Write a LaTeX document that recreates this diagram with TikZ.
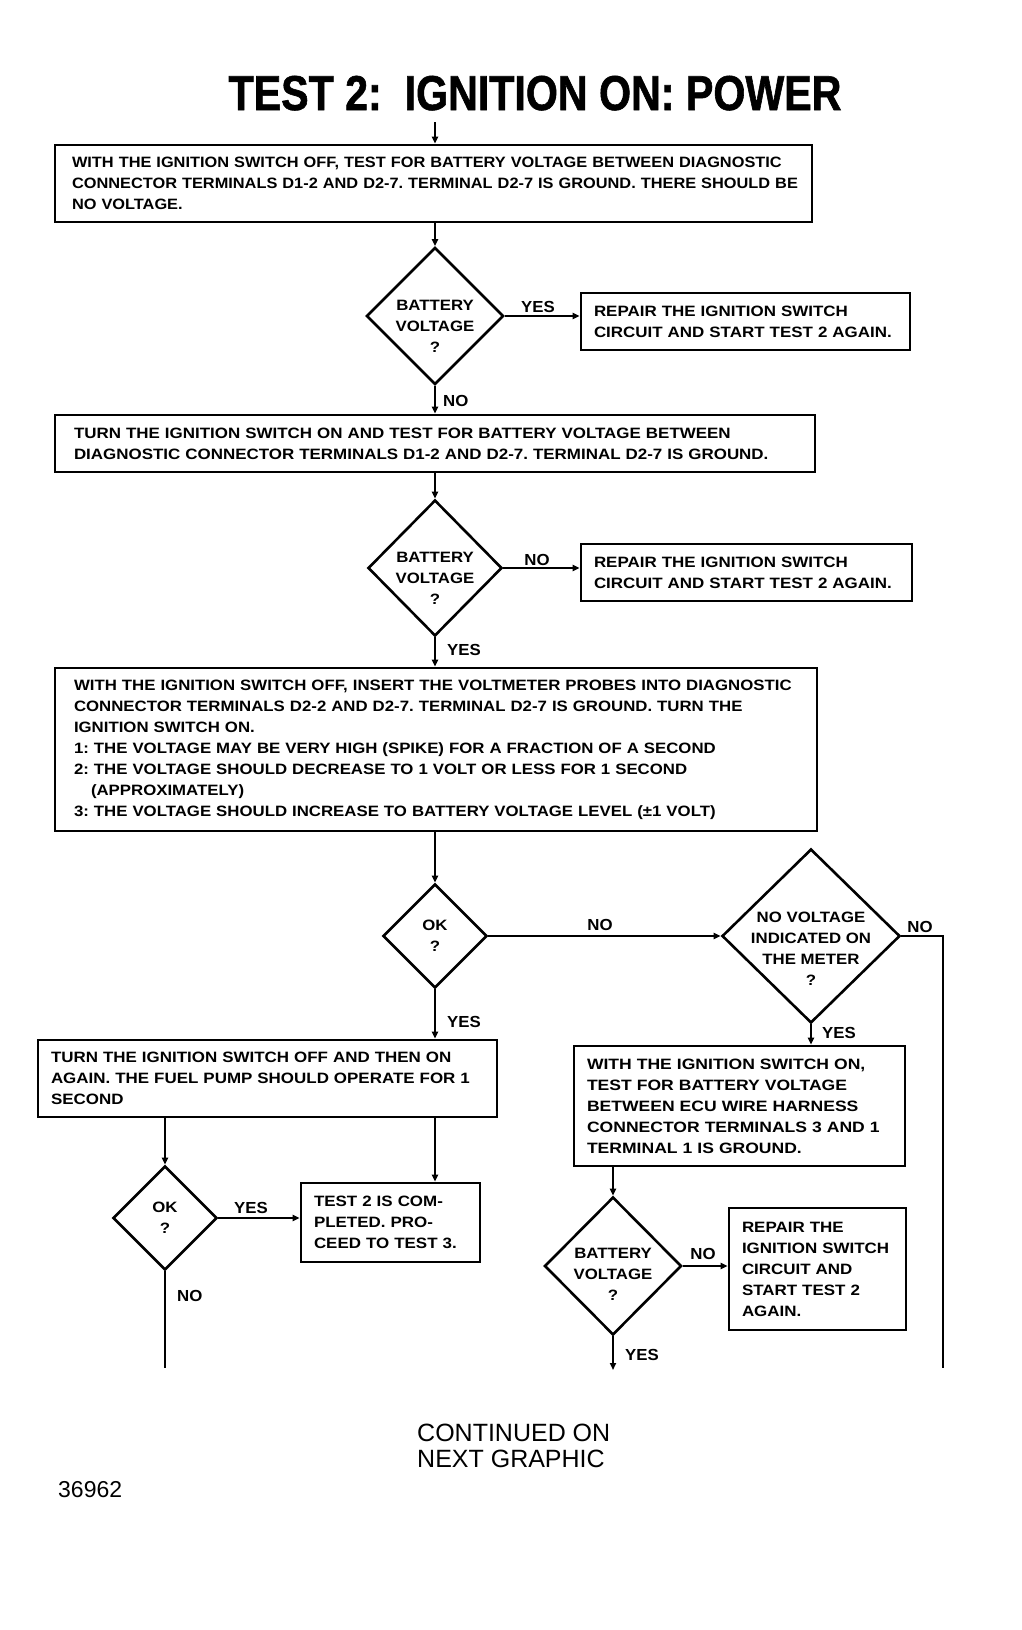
\documentclass[tikz,border=0pt]{standalone}
\usepackage{fontspec}
\setmainfont{Liberation Sans}
\usetikzlibrary{shapes.geometric,arrows.meta}
\newcommand\stretchfont[1]{\addfontfeatures{FakeStretch=#1}}
\frenchspacing
\begin{document}
\begin{tikzpicture}[x=1pt,y=-1pt,
  box/.style={draw,line width=2.6pt,align=left,font=\bfseries\fontsize{15}{21}\selectfont\stretchfont{1.13},inner ysep=0pt},
  dia/.style={draw,diamond,line width=2.6pt,inner sep=0pt},
  lab/.style={font=\bfseries\fontsize{15}{21}\selectfont\stretchfont{1.12},align=center,inner sep=0pt},
  yn/.style={font=\bfseries\fontsize{16}{18}\selectfont\stretchfont{1.05},inner sep=0pt},
  arr/.style={line width=1.8pt,-{Triangle[length=7pt,width=6pt]}},
  ln/.style={line width=1.8pt}]
\useasboundingbox (0,0) rectangle (1021,1630);

\node[anchor=base,font=\bfseries\fontsize{49}{50}\selectfont\addfontfeatures{FakeStretch=0.84,FakeBold=1.2}] (title) at (535,110) {TEST 2:\ \ IGNITION ON: POWER};

% boxes
\node[box,font=\bfseries\fontsize{15}{21}\selectfont\stretchfont{1.09},minimum width=757pt,minimum height=77pt,inner xsep=17pt,text width=723pt] (b1) at (433.5,183.5)
 {\mbox{WITH THE IGNITION SWITCH OFF, TEST FOR BATTERY VOLTAGE BETWEEN DIAGNOSTIC}\\\mbox{CONNECTOR TERMINALS D1-2 AND D2-7. TERMINAL D2-7 IS GROUND. THERE SHOULD BE}\\NO VOLTAGE.};
\node[box,minimum width=329pt,minimum height=57pt,inner xsep=13pt,text width=303pt] (b2) at (745.5,321.5)
 {REPAIR THE IGNITION SWITCH\\CIRCUIT AND START TEST 2 AGAIN.};
\node[box,minimum width=760pt,minimum height=57pt,inner xsep=19pt,text width=722pt] (b3) at (435,443.5)
 {TURN THE IGNITION SWITCH ON AND TEST FOR BATTERY VOLTAGE BETWEEN\\DIAGNOSTIC CONNECTOR TERMINALS D1-2 AND D2-7. TERMINAL D2-7 IS GROUND.};
\node[box,minimum width=331pt,minimum height=57pt,inner xsep=13pt,text width=305pt] (b4) at (746.5,572.5)
 {REPAIR THE IGNITION SWITCH\\CIRCUIT AND START TEST 2 AGAIN.};
\node[box,font=\bfseries\fontsize{15}{21}\selectfont\stretchfont{1.12},minimum width=762pt,minimum height=163pt,inner xsep=19pt,text width=724pt] (b5) at (436,749.5)
 {\mbox{WITH THE IGNITION SWITCH OFF, INSERT THE VOLTMETER PROBES INTO DIAGNOSTIC}\\CONNECTOR TERMINALS D2-2 AND D2-7. TERMINAL D2-7 IS GROUND. TURN THE\\IGNITION SWITCH ON.\\1: THE VOLTAGE MAY BE VERY HIGH (SPIKE) FOR A FRACTION OF A SECOND\\2: THE VOLTAGE SHOULD DECREASE TO 1 VOLT OR LESS FOR 1 SECOND\\\hspace*{17pt}(APPROXIMATELY)\\3: THE VOLTAGE SHOULD INCREASE TO BATTERY VOLTAGE LEVEL (±1 VOLT)};
\node[box,minimum width=459pt,minimum height=77pt,inner xsep=13pt,text width=433pt] (b6) at (267.5,1078.5)
 {TURN THE IGNITION SWITCH OFF AND THEN ON\\AGAIN. THE FUEL PUMP SHOULD OPERATE FOR 1\\SECOND};
\node[box,font=\bfseries\fontsize{15}{21}\selectfont\stretchfont{1.17},minimum width=331pt,minimum height=120pt,inner xsep=13pt,text width=305pt] (b7) at (739.5,1106)
 {WITH THE IGNITION SWITCH ON,\\TEST FOR BATTERY VOLTAGE\\BETWEEN ECU WIRE HARNESS\\CONNECTOR TERMINALS 3 AND 1\\TERMINAL 1 IS GROUND.};
\node[box,minimum width=179pt,minimum height=79pt,inner xsep=13pt,text width=153pt] (b8) at (390.5,1222.5)
 {TEST 2 IS COM-\\PLETED. PRO-\\CEED TO TEST 3.};
\node[box,minimum width=177pt,minimum height=122pt,inner xsep=13pt,text width=151pt] (b9) at (817.5,1269)
 {REPAIR THE\\IGNITION SWITCH\\CIRCUIT AND\\START TEST 2\\AGAIN.};

% diamonds
\node[dia,minimum width=137pt,minimum height=137pt,label={[lab,yshift=-10pt]center:{BATTERY\\VOLTAGE\\?}}] (d1) at (435,316) {};
\node[dia,minimum width=134pt,minimum height=136pt,label={[lab,yshift=-10pt]center:{BATTERY\\VOLTAGE\\?}}] (d2) at (435,568) {};
\node[dia,minimum width=104pt,minimum height=104pt,label={[lab]center:{OK\\?}}] (d3) at (435,936) {};
\node[dia,minimum width=178pt,minimum height=174pt,label={[lab,yshift=-13pt]center:{NO VOLTAGE\\INDICATED ON\\THE METER\\?}}] (d4) at (811,936) {};
\node[dia,minimum width=104pt,minimum height=104pt,label={[lab]center:{OK\\?}}] (d5) at (165,1218) {};
\node[dia,minimum width=137pt,minimum height=138pt,label={[lab,yshift=-8pt]center:{BATTERY\\VOLTAGE\\?}}] (d6) at (613,1266) {};

% free ends
\coordinate (s0) at (435,122);
\coordinate (c4) at (943,1368);
\coordinate (c5) at (165,1368);
\coordinate (c6) at (613,1370);

% connectors
\draw[arr] (s0) -- (s0 |- b1.north);
\draw[arr] (d1.north |- b1.south) -- (d1.north);
\draw[arr] (d1.east) -- (d1.east -| b2.west);
\node[yn] at (538,307) {YES};
\draw[arr] (d1.south) -- (d1.south |- b3.north);
\node[yn,anchor=west] at (443,401) {NO};
\draw[arr] (d2.north |- b3.south) -- (d2.north);
\draw[arr] (d2.east) -- (d2.east -| b4.west);
\node[yn] at (537,560) {NO};
\draw[arr] (d2.south) -- (d2.south |- b5.north);
\node[yn,anchor=west] at (447,650) {YES};
\draw[arr] (d3.north |- b5.south) -- (d3.north);
\draw[arr] (d3.east) -- (d4.west);
\node[yn] at (600,925) {NO};
\draw[ln] (d4.east) -| (c4);
\node[yn] at (920,927) {NO};
\draw[arr] (d4.south) -- (d4.south |- b7.north);
\node[yn,anchor=west] at (822,1033) {YES};
\draw[arr] (d3.south) -- (d3.south |- b6.north);
\node[yn,anchor=west] at (447,1022) {YES};
\draw[arr] (d5.north |- b6.south) -- (d5.north);
\draw[arr] (d3.south |- b6.south) -- (d3.south |- b8.north);
\draw[arr] (d5.east) -- (d5.east -| b8.west);
\node[yn] at (251,1208) {YES};
\draw[ln] (d5.south) -- (c5);
\node[yn,anchor=west] at (177,1296) {NO};
\draw[arr] (d6.north |- b7.south) -- (d6.north);
\draw[arr] (d6.east) -- (d6.east -| b9.west);
\node[yn] at (703,1254) {NO};
\draw[arr] (d6.south) -- (c6);
\node[yn,anchor=west] at (625,1355) {YES};

% footer
\node[anchor=base west,inner sep=0pt,font=\fontsize{25}{26}\selectfont] (cont1) at (417,1441) {CONTINUED ON};
\node[anchor=base west,inner sep=0pt,font=\fontsize{25}{26}\selectfont] (cont2) at (417,1467) {NEXT GRAPHIC};
\node[anchor=base west,inner sep=0pt,font=\fontsize{23}{24}\selectfont] (num) at (58,1497) {36962};
\end{tikzpicture}
\end{document}
